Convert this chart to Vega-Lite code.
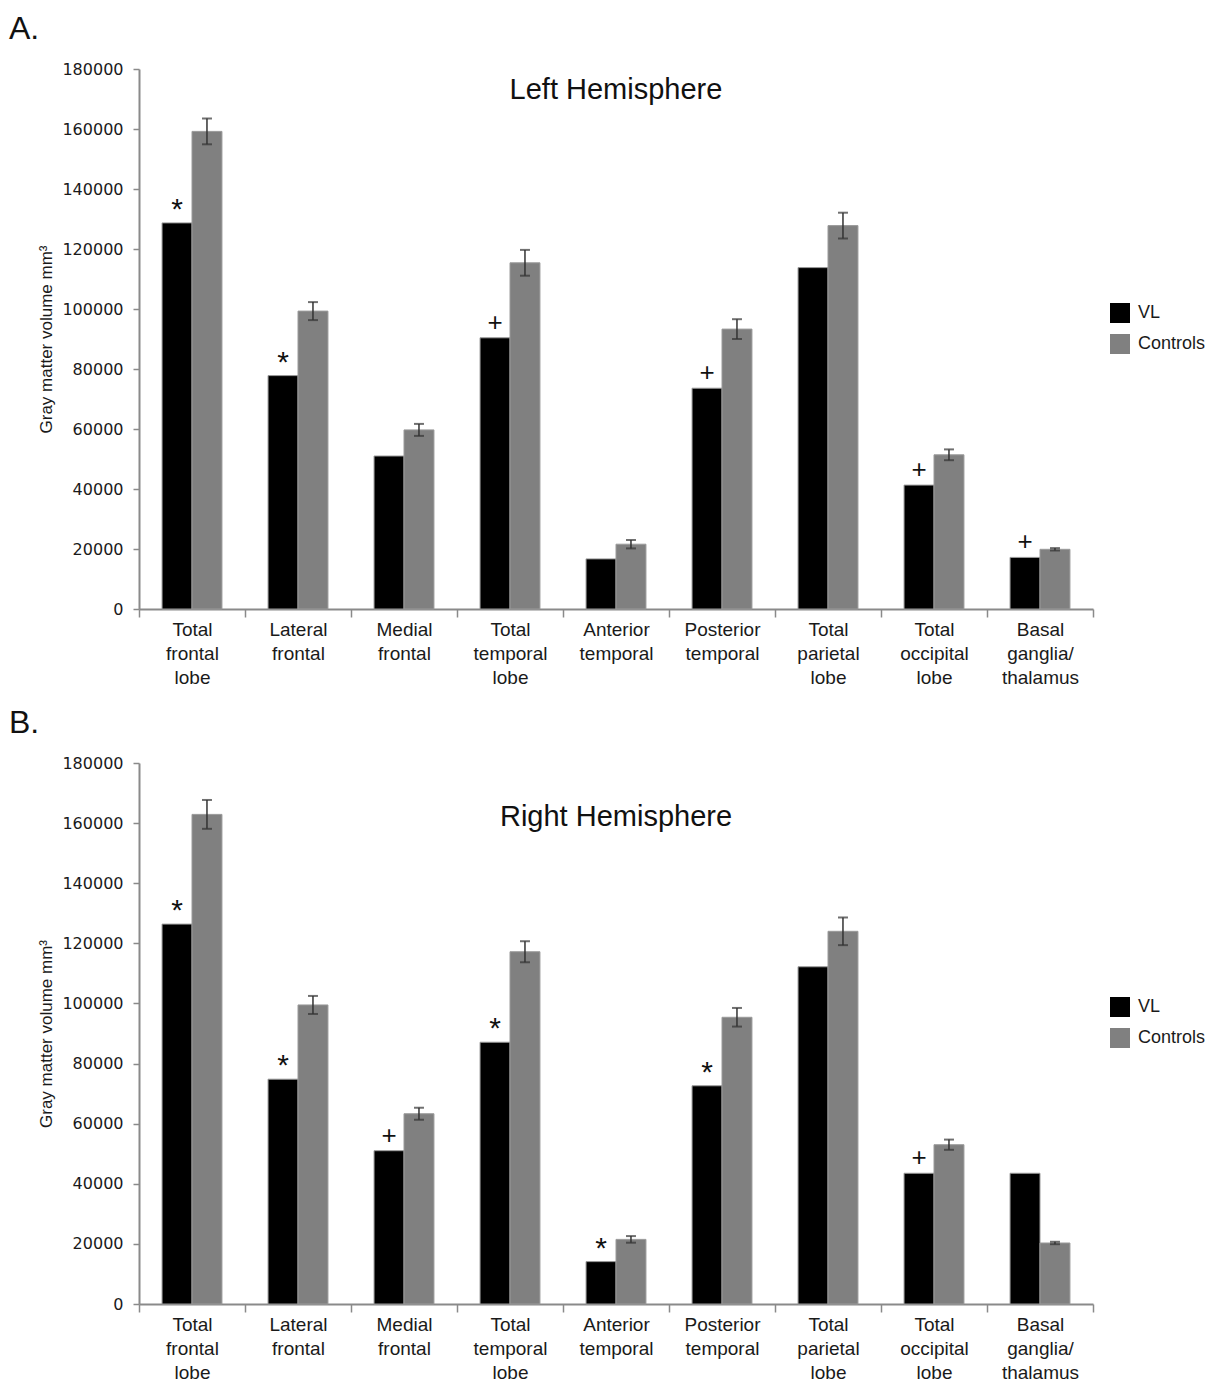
{
  "$schema": "https://vega.github.io/schema/vega-lite/v6.json",
  "background": "white",
  "padding": {"left": 8, "top": 13, "right": 0, "bottom": 0},
  "data": {"values": [
    {"panel": "A", "region": "Total frontal lobe", "group": "VL", "value": 128700, "err": null, "sig": "*"},
    {"panel": "A", "region": "Total frontal lobe", "group": "Controls", "value": 159200, "err": 4300, "sig": null},
    {"panel": "A", "region": "Lateral frontal", "group": "VL", "value": 77800, "err": null, "sig": "*"},
    {"panel": "A", "region": "Lateral frontal", "group": "Controls", "value": 99300, "err": 3000, "sig": null},
    {"panel": "A", "region": "Medial frontal", "group": "VL", "value": 51000, "err": null, "sig": null},
    {"panel": "A", "region": "Medial frontal", "group": "Controls", "value": 59700, "err": 2000, "sig": null},
    {"panel": "A", "region": "Total temporal lobe", "group": "VL", "value": 90400, "err": null, "sig": "+"},
    {"panel": "A", "region": "Total temporal lobe", "group": "Controls", "value": 115400, "err": 4300, "sig": null},
    {"panel": "A", "region": "Anterior temporal", "group": "VL", "value": 16700, "err": null, "sig": null},
    {"panel": "A", "region": "Anterior temporal", "group": "Controls", "value": 21600, "err": 1400, "sig": null},
    {"panel": "A", "region": "Posterior temporal", "group": "VL", "value": 73600, "err": null, "sig": "+"},
    {"panel": "A", "region": "Posterior temporal", "group": "Controls", "value": 93300, "err": 3300, "sig": null},
    {"panel": "A", "region": "Total parietal lobe", "group": "VL", "value": 113800, "err": null, "sig": null},
    {"panel": "A", "region": "Total parietal lobe", "group": "Controls", "value": 127800, "err": 4300, "sig": null},
    {"panel": "A", "region": "Total occipital lobe", "group": "VL", "value": 41300, "err": null, "sig": "+"},
    {"panel": "A", "region": "Total occipital lobe", "group": "Controls", "value": 51400, "err": 1800, "sig": null},
    {"panel": "A", "region": "Basal ganglia/thalamus", "group": "VL", "value": 17200, "err": null, "sig": "+"},
    {"panel": "A", "region": "Basal ganglia/thalamus", "group": "Controls", "value": 19900, "err": 400, "sig": null},
    {"panel": "B", "region": "Total frontal lobe", "group": "VL", "value": 126400, "err": null, "sig": "*"},
    {"panel": "B", "region": "Total frontal lobe", "group": "Controls", "value": 162900, "err": 4800, "sig": null},
    {"panel": "B", "region": "Lateral frontal", "group": "VL", "value": 74800, "err": null, "sig": "*"},
    {"panel": "B", "region": "Lateral frontal", "group": "Controls", "value": 99500, "err": 3000, "sig": null},
    {"panel": "B", "region": "Medial frontal", "group": "VL", "value": 51000, "err": null, "sig": "+"},
    {"panel": "B", "region": "Medial frontal", "group": "Controls", "value": 63300, "err": 2000, "sig": null},
    {"panel": "B", "region": "Total temporal lobe", "group": "VL", "value": 87100, "err": null, "sig": "*"},
    {"panel": "B", "region": "Total temporal lobe", "group": "Controls", "value": 117200, "err": 3500, "sig": null},
    {"panel": "B", "region": "Anterior temporal", "group": "VL", "value": 14100, "err": null, "sig": "*"},
    {"panel": "B", "region": "Anterior temporal", "group": "Controls", "value": 21500, "err": 1100, "sig": null},
    {"panel": "B", "region": "Posterior temporal", "group": "VL", "value": 72600, "err": null, "sig": "*"},
    {"panel": "B", "region": "Posterior temporal", "group": "Controls", "value": 95400, "err": 3100, "sig": null},
    {"panel": "B", "region": "Total parietal lobe", "group": "VL", "value": 112200, "err": null, "sig": null},
    {"panel": "B", "region": "Total parietal lobe", "group": "Controls", "value": 124000, "err": 4600, "sig": null},
    {"panel": "B", "region": "Total occipital lobe", "group": "VL", "value": 43500, "err": null, "sig": "+"},
    {"panel": "B", "region": "Total occipital lobe", "group": "Controls", "value": 53000, "err": 1700, "sig": null},
    {"panel": "B", "region": "Basal ganglia/thalamus", "group": "VL", "value": 43500, "err": null, "sig": null},
    {"panel": "B", "region": "Basal ganglia/thalamus", "group": "Controls", "value": 20300, "err": 400, "sig": null}
  ]},
  "transform": [
    {"calculate": "datum.err == null ? null : datum.value - datum.err", "as": "lo"},
    {"calculate": "datum.err == null ? null : datum.value + datum.err", "as": "hi"}
  ],
  "config": {
    "view": {"stroke": null},
    "font": "Liberation Sans",
    "axis": {"grid": false, "domainColor": "#8a8a8a", "domainWidth": 2, "tickColor": "#8a8a8a", "tickWidth": 1.5, "labelColor": "#1a1a1a", "titleColor": "#1a1a1a"},
    "title": {"font": "Liberation Sans", "fontWeight": "normal", "fontSize": 32, "anchor": "start", "frame": "bounds", "color": "#111", "offset": 15, "dx": -29},
    "legend": {"labelFont": "Liberation Sans", "labelFontSize": 18, "labelColor": "#1a1a1a", "symbolType": "square", "symbolSize": 400, "symbolStrokeWidth": 0, "rowPadding": 11, "labelOffset": 8, "title": null}
  },
  "resolve": {"legend": {"color": "independent"}},
  "spacing": 20,
  "vconcat": [
    {
      "title": "A.",
      "width": 954,
      "height": 540,
      "transform": [{"filter": "datum.panel == 'A'"}],
      "encoding": {
        "x": {"field": "region", "type": "nominal", "sort": null, "scale": {"paddingInner": 0, "paddingOuter": 0},
          "axis": {"title": null, "labelAngle": 0, "labelFontSize": 19, "labelLineHeight": 24, "labelPadding": 3, "tickBand": "extent", "tickSize": 8,
            "labelExpr": "split(replace(datum.label, '/', '/ '), ' ')"}},
        "y": {"field": "value", "type": "quantitative", "scale": {"domain": [0, 180000], "nice": false},
          "axis": {"title": "Gray matter volume mm³", "titleFontSize": 17, "titleFontWeight": "normal", "titlePadding": 6, "values": [0, 20000, 40000, 60000, 80000, 100000, 120000, 140000, 160000, 180000], "format": "d", "labelFont": "DejaVu Sans", "labelFontSize": 16, "tickSize": 6, "labelPadding": 10}}
      },
      "layer": [
        {"mark": {"type": "bar", "stroke": "#9a9a9a", "strokeWidth": 1},
          "encoding": {
            "xOffset": {"field": "group", "type": "nominal", "sort": ["VL", "Controls"], "scale": {"paddingInner": 0, "paddingOuter": 0.77}},
            "color": {"field": "group", "type": "nominal", "sort": ["VL", "Controls"], "scale": {"domain": ["VL", "Controls"], "range": ["#000000", "#808080"]},
            "legend": {"orient": "none", "legendX": 971, "legendY": 234}}}},
        {"transform": [{"filter": "datum.err != null"}], "mark": {"type": "rule", "color": "#333", "strokeWidth": 1.5},
          "encoding": {"xOffset": {"field": "group", "type": "nominal", "sort": ["VL", "Controls"]}, "y": {"field": "lo", "type": "quantitative"}, "y2": {"field": "hi"}}},
        {"transform": [{"filter": "datum.err != null"}], "mark": {"type": "tick", "color": "#333", "size": 10, "thickness": 2},
          "encoding": {"xOffset": {"field": "group", "type": "nominal", "sort": ["VL", "Controls"]}, "y": {"field": "lo", "type": "quantitative"}}},
        {"transform": [{"filter": "datum.err != null"}], "mark": {"type": "tick", "color": "#333", "size": 10, "thickness": 2},
          "encoding": {"xOffset": {"field": "group", "type": "nominal", "sort": ["VL", "Controls"]}, "y": {"field": "hi", "type": "quantitative"}}},
        {"transform": [{"filter": "datum.sig == '*'"}], "mark": {"type": "text", "fontSize": 30, "baseline": "middle", "dy": -13, "color": "#111"},
          "encoding": {"xOffset": {"field": "group", "type": "nominal", "sort": ["VL", "Controls"]}, "text": {"field": "sig"}}},
        {"transform": [{"filter": "datum.sig == '+'"}], "mark": {"type": "text", "fontSize": 26, "baseline": "middle", "dy": -15, "color": "#111"},
          "encoding": {"xOffset": {"field": "group", "type": "nominal", "sort": ["VL", "Controls"]}, "text": {"field": "sig"}}},
        {"data": {"values": [{"label": "Left Hemisphere", "region": "Anterior temporal", "ypos": 173000}]},
          "mark": {"type": "text", "fontSize": 29, "baseline": "middle", "color": "#111"},
          "encoding": {"y": {"field": "ypos", "type": "quantitative"}, "text": {"field": "label"}}}
      ]
    },
    {
      "title": "B.",
      "width": 954,
      "height": 541,
      "transform": [{"filter": "datum.panel == 'B'"}],
      "encoding": {
        "x": {"field": "region", "type": "nominal", "sort": null, "scale": {"paddingInner": 0, "paddingOuter": 0},
          "axis": {"title": null, "labelAngle": 0, "labelFontSize": 19, "labelLineHeight": 24, "labelPadding": 3, "tickBand": "extent", "tickSize": 8,
            "labelExpr": "split(replace(datum.label, '/', '/ '), ' ')"}},
        "y": {"field": "value", "type": "quantitative", "scale": {"domain": [0, 180000], "nice": false},
          "axis": {"title": "Gray matter volume mm³", "titleFontSize": 17, "titleFontWeight": "normal", "titlePadding": 6, "values": [0, 20000, 40000, 60000, 80000, 100000, 120000, 140000, 160000, 180000], "format": "d", "labelFont": "DejaVu Sans", "labelFontSize": 16, "tickSize": 6, "labelPadding": 10}}
      },
      "layer": [
        {"mark": {"type": "bar", "stroke": "#9a9a9a", "strokeWidth": 1},
          "encoding": {
            "xOffset": {"field": "group", "type": "nominal", "sort": ["VL", "Controls"], "scale": {"paddingInner": 0, "paddingOuter": 0.77}},
            "color": {"field": "group", "type": "nominal", "sort": ["VL", "Controls"], "scale": {"domain": ["VL", "Controls"], "range": ["#000000", "#808080"]},
            "legend": {"orient": "none", "legendX": 971, "legendY": 234}}}},
        {"transform": [{"filter": "datum.err != null"}], "mark": {"type": "rule", "color": "#333", "strokeWidth": 1.5},
          "encoding": {"xOffset": {"field": "group", "type": "nominal", "sort": ["VL", "Controls"]}, "y": {"field": "lo", "type": "quantitative"}, "y2": {"field": "hi"}}},
        {"transform": [{"filter": "datum.err != null"}], "mark": {"type": "tick", "color": "#333", "size": 10, "thickness": 2},
          "encoding": {"xOffset": {"field": "group", "type": "nominal", "sort": ["VL", "Controls"]}, "y": {"field": "lo", "type": "quantitative"}}},
        {"transform": [{"filter": "datum.err != null"}], "mark": {"type": "tick", "color": "#333", "size": 10, "thickness": 2},
          "encoding": {"xOffset": {"field": "group", "type": "nominal", "sort": ["VL", "Controls"]}, "y": {"field": "hi", "type": "quantitative"}}},
        {"transform": [{"filter": "datum.sig == '*'"}], "mark": {"type": "text", "fontSize": 30, "baseline": "middle", "dy": -13, "color": "#111"},
          "encoding": {"xOffset": {"field": "group", "type": "nominal", "sort": ["VL", "Controls"]}, "text": {"field": "sig"}}},
        {"transform": [{"filter": "datum.sig == '+'"}], "mark": {"type": "text", "fontSize": 26, "baseline": "middle", "dy": -15, "color": "#111"},
          "encoding": {"xOffset": {"field": "group", "type": "nominal", "sort": ["VL", "Controls"]}, "text": {"field": "sig"}}},
        {"data": {"values": [{"label": "Right Hemisphere", "region": "Anterior temporal", "ypos": 162000}]},
          "mark": {"type": "text", "fontSize": 29, "baseline": "middle", "color": "#111"},
          "encoding": {"y": {"field": "ypos", "type": "quantitative"}, "text": {"field": "label"}}}
      ]
    }
  ]
}
